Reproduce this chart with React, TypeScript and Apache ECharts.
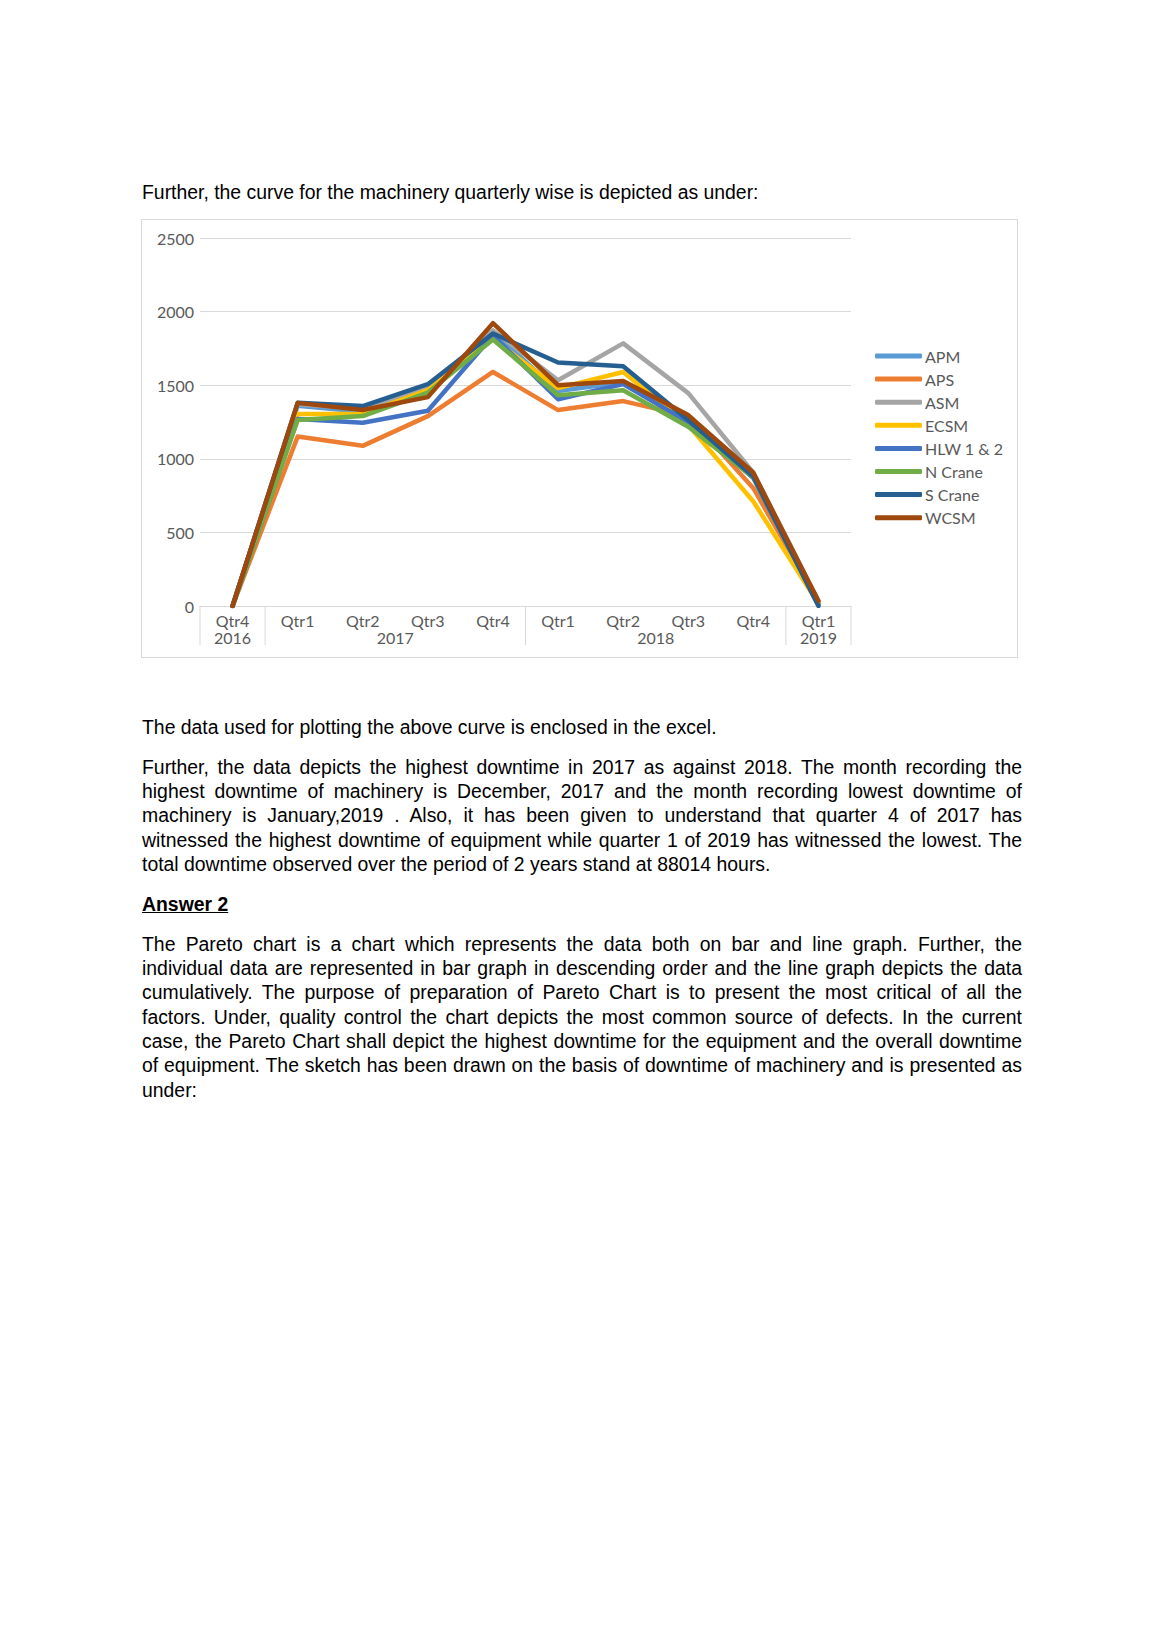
import React, { useEffect, useRef } from "react";
import * as echarts from "echarts";

const categories = ["2016|Qtr4", "2017|Qtr1", "2017|Qtr2", "2017|Qtr3", "2017|Qtr4", "2018|Qtr1", "2018|Qtr2", "2018|Qtr3", "2018|Qtr4", "2019|Qtr1"];
const yTicks = [0, 500, 1000, 1500, 2000, 2500];

const APM = [0, 1360, 1320, 1450, 1860, 1460, 1520, 1240, 880, 10];
const APS = [0, 1151, 1088, 1290, 1590, 1331, 1392, 1290, 800, 30];
const ASM = [0, 1370, 1340, 1480, 1872, 1534, 1784, 1446, 905, 15];
const ECSM = [0, 1304, 1305, 1466, 1815, 1480, 1590, 1230, 710, 15];
const HLW = [0, 1270, 1245, 1326, 1837, 1405, 1507, 1250, 870, 10];
const NCrane = [0, 1263, 1290, 1450, 1811, 1432, 1466, 1218, 875, 10];
const SCrane = [0, 1380, 1358, 1507, 1851, 1654, 1628, 1263, 880, 0];
const WCSM = [0, 1380, 1331, 1419, 1921, 1500, 1529, 1297, 905, 35];

const seriesNames = ["APM", "APS", "ASM", "ECSM", "HLW 1 & 2", "N Crane", "S Crane", "WCSM"];
const seriesData = [APM, APS, ASM, ECSM, HLW, NCrane, SCrane, WCSM];
const seriesColors = ["#5B9BD5", "#ED7D31", "#A5A5A5", "#FFC000", "#4472C4", "#70AD47", "#255E91", "#9E480E"];

const yearGroups = [
  { label: "2017", from: 1, to: 4 },
  { label: "2018", from: 5, to: 8 },
];
const separatorIdx = [-0.5, 0.5, 4.5, 8.5, 9.5];

const para0 = "Further, the curve for the machinery quarterly wise is depicted as under:";
const para1 = "The data used for plotting the above curve is enclosed in the excel.";
const para2 = [
  "Further, the data depicts the highest downtime in 2017 as against 2018. The month recording the",
  "highest downtime of machinery is December, 2017 and the month recording lowest downtime of",
  "machinery is January,2019 . Also, it has been given to understand that quarter 4 of 2017 has",
  "witnessed the highest downtime of equipment while quarter 1 of 2019 has witnessed the lowest. The",
  "total downtime observed over the period of 2 years stand at 88014 hours.",
];
const heading = "Answer 2";
const para3 = [
  "The Pareto chart is a chart which represents the data both on bar and line graph. Further, the",
  "individual data are represented in bar graph in descending order and the line graph depicts the data",
  "cumulatively. The purpose of preparation of Pareto Chart is to present the most critical of all the",
  "factors. Under, quality control the chart depicts the most common source of defects. In the current",
  "case, the Pareto Chart shall depict the highest downtime for the equipment and the overall downtime",
  "of equipment. The sketch has been drawn on the basis of downtime of machinery and is presented as",
  "under:",
];

const FONT = "'Liberation Sans', Arial, sans-serif";
const FS = 19.4;
const LH = 24.3;

function Lines({ lines, top }: { lines: string[]; top: number }) {
  return (
    <div style={{ position: "absolute", left: 142, top, width: 880 }}>
      {lines.map((l, i) => (
        <div
          key={i}
          style={{
            height: LH,
            lineHeight: LH + "px",
            whiteSpace: "nowrap",
            textAlign: "justify",
            textAlignLast: i < lines.length - 1 ? "justify" : "left",
          }}
        >
          {l}
        </div>
      ))}
    </div>
  );
}

function Chart() {
  const ref = useRef<HTMLDivElement>(null);
  useEffect(() => {
    if (!ref.current) return;
    const chart = echarts.init(ref.current, null, { renderer: "svg" });
    const axisColor = "#D9D9D9";
    const textColor = "#595959";
    const chartFont = "Lato, 'Open Sans', sans-serif";
    const cfs = 16;
    chart.setOption({
      animation: false,
      textStyle: { fontFamily: chartFont },
      grid: { left: 58, right: 166, top: 18, bottom: 51, containLabel: false },
      legend: {
        orient: "vertical",
        left: 728,
        top: 123,
        itemWidth: 47,
        itemHeight: 5,
        itemGap: 7.1,
        icon: "roundRect",
        data: seriesNames,
        textStyle: { color: textColor, fontSize: cfs, lineHeight: 16, fontFamily: chartFont, padding: [0, 0, 0, -2] },
      },
      xAxis: {
        type: "category",
        data: categories,
        boundaryGap: true,
        axisLine: { lineStyle: { color: axisColor, width: 1 } },
        axisTick: { show: false },
        axisLabel: {
          color: textColor,
          fontSize: cfs,
          lineHeight: 17,
          margin: 6,
          fontFamily: chartFont,
          interval: 0,
          formatter: (v: string, i: number) => {
            const [yr, q] = v.split("|");
            if (i === 0 || i === categories.length - 1) return q + "\n" + yr;
            return q;
          },
        },
      },
      yAxis: {
        type: "value",
        min: yTicks[0],
        max: yTicks[yTicks.length - 1],
        interval: 500,
        axisLine: { show: false },
        axisTick: { show: false },
        axisLabel: { color: textColor, fontSize: cfs, margin: 6, fontFamily: chartFont, formatter: (v: number) => String(v) },
        splitLine: { lineStyle: { color: axisColor, width: 1 } },
      },
      series: seriesNames.map((n, i) => ({
        name: n,
        type: "line",
        data: seriesData[i],
        symbol: "none",
        color: seriesColors[i],
        lineStyle: { width: 4.5, color: seriesColors[i], cap: "round", join: "round" },
      })),
    });

    const px = (i: number) => chart.convertToPixel({ xAxisIndex: 0 }, i) as number;
    const x0 = px(0);
    const bw = px(1) - x0;
    const xAt = (f: number) => x0 + f * bw;
    const y0 = chart.convertToPixel({ yAxisIndex: 0 }, 0) as number;
    const graphics: any[] = [];
    separatorIdx.forEach((s) => {
      graphics.push({
        type: "line",
        shape: { x1: xAt(s), y1: y0, x2: xAt(s), y2: y0 + 39 },
        style: { stroke: axisColor, lineWidth: 1 },
        silent: true,
      });
    });
    yearGroups.forEach((g) => {
      graphics.push({
        type: "text",
        x: (xAt(g.from) + xAt(g.to)) / 2,
        y: y0 + 31,
        style: {
          text: g.label,
          fill: textColor,
          font: `${cfs}px ${chartFont}`,
          textAlign: "center",
          textVerticalAlign: "middle",
        },
        silent: true,
      });
    });
    chart.setOption({ graphic: graphics });
    return () => chart.dispose();
  }, []);
  return (
    <div
      ref={ref}
      style={{
        position: "absolute",
        left: 141,
        top: 219,
        width: 877,
        height: 439,
        boxSizing: "border-box",
        border: "1px solid #D9D9D9",
      }}
    />
  );
}

export default function App() {
  return (
    <div
      style={{
        position: "absolute",
        left: 0,
        top: 0,
        width: 1158,
        height: 1638,
        background: "#fff",
        fontFamily: FONT,
        fontSize: FS,
        color: "#000",
      }}
    >
      <Lines lines={[para0]} top={192 - LH / 2} />
      <Chart />
      <Lines lines={[para1]} top={727 - LH / 2} />
      <Lines lines={para2} top={767 - LH / 2} />
      <div
        style={{
          position: "absolute",
          left: 142,
          top: 904 - LH / 2,
          lineHeight: LH + "px",
          fontWeight: "bold",
          textDecoration: "underline",
        }}
      >
        {heading}
      </div>
      <Lines lines={para3} top={944 - LH / 2} />
    </div>
  );
}
